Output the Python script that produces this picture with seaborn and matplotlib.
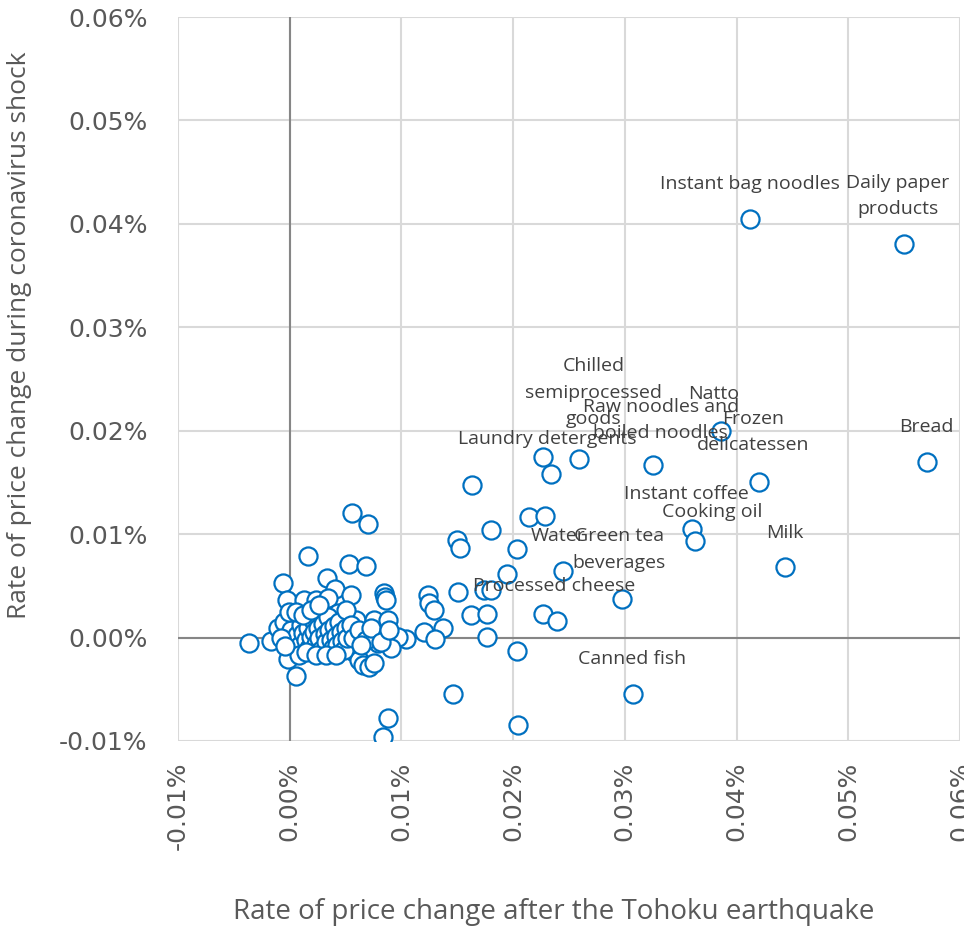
import numpy as np
import pandas as pd
import matplotlib
matplotlib.use('Agg')
import matplotlib.pyplot as plt
import seaborn as sns
from matplotlib.ticker import FuncFormatter, MultipleLocator

# puntos con etiqueta (valores en %)
etiquetas = ['Instant bag noodles', 'Daily paper\nproducts', 'Bread', 'Milk',
             'Frozen\ndelicatessen', 'Natto', 'Raw noodles and\nboiled noodles',
             'Instant coffee', 'Cooking oil', 'Chilled\nsemiprocessed\ngoods',
             'Laundry detergents', 'Water', 'Green tea\nbeverages',
             'Processed cheese', 'Canned fish']
x_etiq = [0.04117, 0.05495, 0.05701, 0.04430, 0.04198, 0.03857, 0.03249,
          0.03598, 0.03625, 0.02587, 0.02336, 0.02443, 0.02971, 0.02390, 0.03070]
y_etiq = [0.04048, 0.03806, 0.01700, 0.00686, 0.01507, 0.02000, 0.01671,
          0.01053, 0.00937, 0.01729, 0.01584, 0.00647, 0.00377, 0.00164, -0.00541]
# desplazamiento de cada etiqueta (pixeles)
dx_etiq = [0, -6, 0, 0, -6, -7, 8, -5, 17, 15, -3, -5, -3, -3, -1]
dy_etiq = [35, 48, 35, 34, 50, 37, 45, 35, 29, 66, 35, 35, 49, 35, 35]

# resto de los puntos (sin etiqueta)
x_resto = [0.02264, 0.01629, 0.02139, 0.02282, 0.01799, 0.01495, 0.01522, 0.02032,
           0.01942, 0.01235, 0.01244, 0.01289, 0.01504, 0.01736, 0.01799, 0.01369,
           0.01199, 0.01298, 0.01038, 0.01620, 0.01763, 0.01763, 0.02264, 0.02032,
           0.01459, 0.02041, 0.00555, 0.00698, 0.00161, 0.00528, 0.00680, -0.00063,
           0.00331, 0.00403, 0.00546, 0.00841, 0.00850, 0.00859, -0.00027, 0.00125,
           0.00233, 0.00340, -0.00367, -0.00170, -0.00107, -0.00054, -0.00018, 0.00054,
           0.00877, 0.00832, 0.00591, 0.00752, 0.00877, 0.00662, 0.00967, 0.00573,
           0.00618, 0.00653, 0.00707, 0.00752, 0.00904, 0.00788, 0.00430, 0.00474,
           0.00009, 0.00036, 0.00063, 0.00090, 0.00098, 0.00116, 0.00143, 0.00161,
           0.00170, 0.00188, 0.00206, 0.00215, 0.00233, 0.00251, 0.00260, 0.00277,
           0.00295, 0.00313, 0.00322, 0.00340, 0.00349, 0.00367, 0.00385, 0.00394,
           0.00412, 0.00421, 0.00439, 0.00456, 0.00465, 0.00483, 0.00501, 0.00510,
           0.00081, 0.00143, 0.00233, 0.00322, 0.00412, -0.00081, -0.00045, -0.00009,
           0.00054, 0.00116, 0.00188, 0.00260, 0.00501, 0.00546, 0.00564, 0.00618,
           0.00680, 0.00725, 0.00814, 0.00886, 0.00635]
y_resto = [0.01748, 0.01478, 0.01169, 0.01179, 0.01043, 0.00947, 0.00869, 0.00860,
           0.00618, 0.00415, 0.00338, 0.00270, 0.00444, 0.00464, 0.00464, 0.00097,
           0.00058, -0.00010, -0.00010, 0.00222, 0.00232, 0.00010, 0.00232, -0.00126,
           -0.00541, -0.00850, 0.01208, 0.01101, 0.00792, 0.00715, 0.00696, 0.00531,
           0.00580, 0.00473, 0.00415, 0.00435, 0.00396, 0.00367, 0.00367, 0.00367,
           0.00367, 0.00386, -0.00048, -0.00029, 0.00097, 0.00155, -0.00203, -0.00367,
           -0.00773, -0.00966, 0.00174, 0.00174, 0.00174, 0.00048, 0.00010, -0.00135,
           -0.00213, -0.00261, -0.00280, -0.00242, -0.00097, -0.00048, 0.00242, -0.00019,
           0.00077, -0.00019, 0.00029, -0.00068, 0.00126, 0.00048, -0.00019, 0.00097,
           -0.00097, 0.00010, 0.00174, 0.00058, -0.00058, 0.00097, 0.00000, -0.00116,
           0.00135, 0.00039, -0.00039, 0.00203, 0.00077, -0.00019, -0.00097, 0.00116,
           0.00019, -0.00068, 0.00155, 0.00058, -0.00029, -0.00116, 0.00097, 0.00000,
           -0.00164, -0.00135, -0.00164, -0.00164, -0.00164, 0.00000, -0.00077, 0.00251,
           0.00251, 0.00222, 0.00270, 0.00319, 0.00270, 0.00126, 0.00000, 0.00077,
           -0.00019, 0.00097, -0.00039, 0.00077, -0.00068]

df = pd.DataFrame({'x': x_resto + x_etiq, 'y': y_resto + y_etiq})

azul = '#0070C0'
gris_texto = '#404040'

sns.set_theme(style='white')
plt.rcParams['font.family'] = ['Open Sans', 'DejaVu Sans']

fig = plt.figure(figsize=(9.64, 9.26), dpi=100)
ax = fig.add_axes([0.1846, 0.1998, 0.8113, 0.7818])

ax.set_xlim(-0.01, 0.06)
ax.set_ylim(-0.01, 0.06)
ax.xaxis.set_major_locator(MultipleLocator(0.01))
ax.yaxis.set_major_locator(MultipleLocator(0.01))
ax.grid(True, color='#D9D9D9', linewidth=1.5)
ax.set_axisbelow(True)
for s in ax.spines.values():
    s.set_visible(False)

# ejes en cero
ax.axhline(0, color='#868686', linewidth=1.5, zorder=1)
ax.axvline(0, color='#868686', linewidth=1.5, zorder=1)

sns.scatterplot(data=df, x='x', y='y', ax=ax, s=170, marker='o',
                facecolor='white', edgecolor=azul, linewidth=1.6, zorder=3)

for txt, xv, yv, dx, dy in zip(etiquetas, x_etiq, y_etiq, dx_etiq, dy_etiq):
    ax.annotate(txt, (xv, yv), xytext=(dx, dy), textcoords='offset pixels',
                ha='center', va='center', fontsize=14, color=gris_texto,
                linespacing=1.6, zorder=4)

fmt = FuncFormatter(lambda v, p: f'{v:.2f}%')
ax.xaxis.set_major_formatter(fmt)
ax.yaxis.set_major_formatter(fmt)
ax.tick_params(axis='both', labelsize=18, colors='#595959', length=0)
ax.tick_params(axis='x', labelrotation=90, pad=15)
ax.tick_params(axis='y', pad=22)
for lab in ax.get_xticklabels() + ax.get_yticklabels():
    lab.set_family('DejaVu Sans')

ax.set_xlabel('Rate of price change after the Tohoku earthquake', fontsize=20,
              color='#595959')
ax.set_ylabel('Rate of price change during coronavirus shock', fontsize=19,
              color='#595959')
ax.xaxis.set_label_coords(0.481, -0.217)
ax.yaxis.set_label_coords(-0.187, 0.561)

fig.savefig('out.png', dpi=100)
